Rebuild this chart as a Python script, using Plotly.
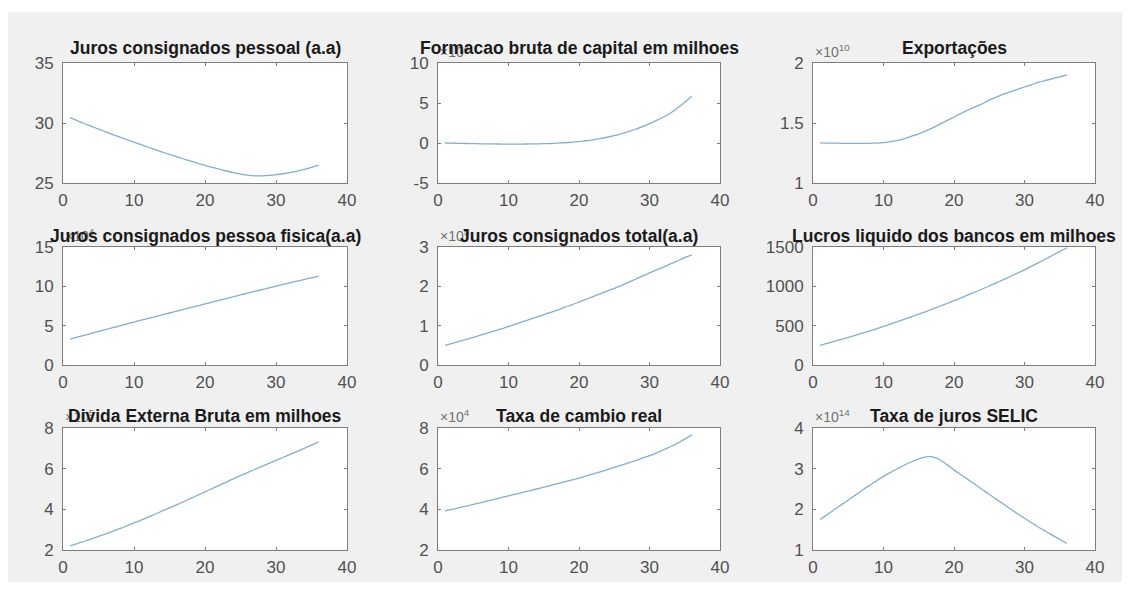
import plotly.graph_objects as go

# ---------------- data ----------------
periodos = list(range(1, 37))

titulos = [
    "Juros consignados pessoal (a.a)",
    "Formacao bruta de capital em milhoes",
    "Exportações",
    "Juros consignados pessoa fisica(a.a)",
    "Juros consignados total(a.a)",
    "Lucros liquido dos bancos em milhoes",
    "Divida Externa Bruta em milhoes",
    "Taxa de cambio real",
    "Taxa de juros SELIC",
]

# power-of-ten multipliers shown above the y axes (0 = none)
expoentes = [0, 4, 10, 4, 5, 0, 5, 4, 14]

juros_pessoal = [30.45, 30.2, 29.96, 29.72, 29.49, 29.26, 29.04, 28.82, 28.61, 28.4,
                 28.19, 27.98, 27.78, 27.58, 27.38, 27.19, 27.0, 26.82, 26.64, 26.47,
                 26.31, 26.15, 26.0, 25.86, 25.74, 25.65, 25.6, 25.6, 25.63, 25.69,
                 25.77, 25.87, 25.99, 26.13, 26.3, 26.48]
formacao_bruta = [0.0, -0.02, -0.04, -0.06, -0.08, -0.1, -0.11, -0.12, -0.13, -0.13,
                  -0.13, -0.13, -0.12, -0.11, -0.09, -0.06, -0.02, 0.03, 0.1, 0.18,
                  0.28, 0.4, 0.55, 0.72, 0.92, 1.15, 1.42, 1.72, 2.05, 2.42,
                  2.82, 3.25, 3.75, 4.4, 5.1, 5.85]
exportacoes = [1.335, 1.333, 1.332, 1.331, 1.33, 1.33, 1.33, 1.331, 1.333, 1.337,
               1.344, 1.355, 1.37, 1.39, 1.41, 1.435, 1.46, 1.49, 1.52, 1.55,
               1.58, 1.61, 1.635, 1.66, 1.69, 1.715, 1.74, 1.76, 1.78, 1.8,
               1.82, 1.84, 1.855, 1.87, 1.885, 1.9]
juros_pessoa_fisica = [3.3, 3.54, 3.78, 4.02, 4.26, 4.5, 4.74, 4.98, 5.22, 5.46,
                       5.69, 5.92, 6.15, 6.38, 6.61, 6.84, 7.07, 7.3, 7.53, 7.76,
                       7.99, 8.22, 8.45, 8.68, 8.91, 9.14, 9.36, 9.58, 9.8, 10.02,
                       10.24, 10.45, 10.66, 10.87, 11.08, 11.3]
juros_total = [0.5, 0.55, 0.6, 0.65, 0.7, 0.76, 0.81, 0.87, 0.92, 0.98,
               1.04, 1.1, 1.16, 1.22, 1.28, 1.34, 1.4, 1.47, 1.53, 1.6,
               1.67, 1.74, 1.81, 1.88, 1.95, 2.02, 2.1, 2.18, 2.26, 2.34,
               2.42, 2.49, 2.57, 2.65, 2.73, 2.8]
lucros_bancos = [250, 275, 300, 326, 352, 378, 405, 432, 460, 490,
                 520, 551, 582, 614, 646, 679, 713, 747, 782, 818,
                 854, 891, 928, 966, 1004, 1044, 1085, 1126, 1168, 1210,
                 1256, 1302, 1348, 1395, 1442, 1490]
divida_externa = [2.2, 2.31, 2.43, 2.55, 2.67, 2.79, 2.92, 3.05, 3.19, 3.33,
                  3.47, 3.62, 3.77, 3.92, 4.07, 4.22, 4.38, 4.54, 4.7, 4.86,
                  5.02, 5.18, 5.34, 5.5, 5.66, 5.81, 5.96, 6.11, 6.26, 6.41,
                  6.55, 6.7, 6.85, 7.0, 7.16, 7.32]
cambio_real = [3.92, 4.0, 4.08, 4.16, 4.24, 4.32, 4.41, 4.49, 4.58, 4.66,
               4.75, 4.83, 4.92, 5.0, 5.09, 5.18, 5.27, 5.36, 5.45, 5.54,
               5.64, 5.74, 5.84, 5.95, 6.06, 6.17, 6.28, 6.4, 6.52, 6.64,
               6.78, 6.93, 7.09, 7.26, 7.45, 7.66]
selic = [1.75, 1.87, 1.99, 2.11, 2.23, 2.35, 2.47, 2.59, 2.7, 2.81,
         2.91, 3.0, 3.09, 3.17, 3.24, 3.29, 3.29, 3.22, 3.1, 2.97,
         2.85, 2.73, 2.61, 2.49, 2.37, 2.25, 2.13, 2.01, 1.89, 1.78,
         1.67, 1.56, 1.46, 1.36, 1.26, 1.16]

series = [juros_pessoal, formacao_bruta, exportacoes,
          juros_pessoa_fisica, juros_total, lucros_bancos,
          divida_externa, cambio_real, selic]

y_ranges = [[25, 35], [-5, 10], [1, 2], [0, 15], [0, 3], [0, 1500],
            [2, 8], [2, 8], [1, 4]]
y_ticks = [[25, 30, 35], [-5, 0, 5, 10], [1, 1.5, 2], [0, 5, 10, 15],
           [0, 1, 2, 3], [0, 500, 1000, 1500], [2, 4, 6, 8], [2, 4, 6, 8],
           [1, 2, 3, 4]]
x_range = [0, 40]
x_ticks = [0, 10, 20, 30, 40]

# ---------------- layout geometry (page pixels) ----------------
# the page body keeps its default 8px margin, so the figure is 1114x574
OFF = 8
W, H = 1130 - 2 * OFF, 590 - 2 * OFF
cols_px = [(63, 347), (438, 720), (813, 1095)]
rows_px = [(63, 183), (247, 365), (428, 550)]
title_y_px = [48, 236, 416]


def px_x(p):
    return (p - OFF) / W


def px_y(p):
    return 1 - (p - OFF) / H


LINE = "#84aed0"
AX = "#7d7d7d"
TXT = "#505050"
FONT = "Liberation Sans"

fig = go.Figure()
annotations = []
layout_axes = {}

for i in range(9):
    r, c = divmod(i, 3)
    x0, x1 = cols_px[c]
    yt, yb = rows_px[r]
    n = i + 1
    xa = "xaxis" if n == 1 else f"xaxis{n}"
    ya = "yaxis" if n == 1 else f"yaxis{n}"
    xref = "x" if n == 1 else f"x{n}"
    yref = "y" if n == 1 else f"y{n}"
    mult = 10 ** expoentes[i]
    yvals = [v * mult for v in series[i]]

    fig.add_trace(go.Scatter(x=periodos, y=yvals, mode="lines",
                             line=dict(color=LINE, width=1.3, shape="spline",
                                       smoothing=0.6),
                             xaxis=xref, yaxis=yref, showlegend=False,
                             hoverinfo="skip"))

    common = dict(showgrid=False, zeroline=False, showline=True,
                  linecolor=AX, linewidth=1, mirror="ticks",
                  ticks="inside", ticklen=3, tickcolor=AX, automargin=False,
                  tickfont=dict(family=FONT, size=17, color=TXT))
    layout_axes[xa] = dict(common, domain=[px_x(x0), px_x(x1)], anchor=yref,
                           range=x_range, tickvals=x_ticks,
                           ticktext=[str(t) for t in x_ticks],
                           ticklabelstandoff=2)
    layout_axes[ya] = dict(common, domain=[px_y(yb), px_y(yt)], anchor=xref,
                           range=[y_ranges[i][0] * mult, y_ranges[i][1] * mult],
                           tickvals=[t * mult for t in y_ticks[i]],
                           ticktext=[f"{t:g}" for t in y_ticks[i]],
                           ticklabelstandoff=5)

    if expoentes[i]:
        annotations.append(dict(
            text=f"×10<sup>{expoentes[i]}</sup>", xref="paper", yref="paper",
            x=px_x(x0), y=px_y(yt - 1), xanchor="left", yanchor="bottom",
            showarrow=False, font=dict(family=FONT, size=14, color="#707070")))

    annotations.append(dict(
        text=f"<b>{titulos[i]}</b>", xref="paper", yref="paper",
        x=px_x((x0 + x1) / 2), y=px_y(title_y_px[r]), xanchor="center",
        yanchor="middle", showarrow=False,
        font=dict(family=FONT, size=17.5, color="#1a1a1a")))

# thin white strip on top of the grey figure area (page margin gives the rest)
shapes = [dict(type="rect", xref="paper", yref="paper",
               x0=0, x1=1, y0=px_y(12), y1=1,
               fillcolor="white", line=dict(width=0), layer="below")]

fig.update_layout(template="none", width=W, height=H,
                  margin=dict(l=0, r=0, t=0, b=0, pad=0),
                  paper_bgcolor="#f0f0f0", plot_bgcolor="white",
                  annotations=annotations, shapes=shapes, **layout_axes)

fig.write_html("out.html", config={"displayModeBar": False})
